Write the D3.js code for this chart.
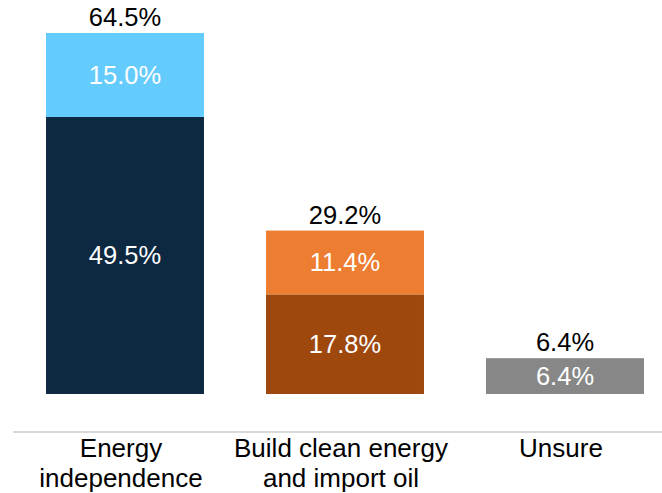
<!DOCTYPE html>
<html><head><meta charset="utf-8">
<script src="https://cdn.jsdelivr.net/npm/d3@7"></script>
<style>body{margin:0;background:#fff}svg{display:block}text{font-family:"Liberation Sans",Arial,sans-serif}</style>
</head><body>
<svg id="c" width="662" height="493"></svg>
<script>
const categories = [["Energy","independence"],["Build clean energy","and import oil"],["Unsure"]];
const bottomValues = [49.5, 17.8, 6.4];
const topValues = [15.0, 11.4, 0];
const totals = [64.5, 29.2, 6.4];
const bottomColors = ["#0d2841", "#9e480e", "#878787"];
const topColors = ["#64cbfd", "#ed7d31", "#878787"];

const svg = d3.select("#c");
const idx = categories.map((d,i)=>i);
const x = d3.scaleBand().domain(idx).range([15, 675]).paddingInner(0.282).paddingOuter(0.141);
const y = d3.scaleLinear().domain([0, 64.5]).range([394, 33]);

// axis line
svg.append("line").attr("x1",13).attr("x2",662).attr("y1",432).attr("y2",432)
  .attr("stroke","#d9d9d9").attr("stroke-width",2);

const fs = 25.5;
idx.forEach(i=>{
  const b = bottomValues[i], t = topValues[i];
  svg.append("rect").attr("x",x(i)).attr("width",x.bandwidth())
    .attr("y",y(b)).attr("height",y(0)-y(b)).attr("fill",bottomColors[i]);
  svg.append("text").attr("x",x(i)+x.bandwidth()/2).attr("y",(y(0)+y(b))/2)
    .attr("dy","0.35em").attr("text-anchor","middle").attr("fill","#fff").attr("font-size",fs)
    .text(b.toFixed(1)+"%");
  if (t>0){
    svg.append("rect").attr("x",x(i)).attr("width",x.bandwidth())
      .attr("y",y(b+t)).attr("height",y(b)-y(b+t)).attr("fill",topColors[i]);
    svg.append("text").attr("x",x(i)+x.bandwidth()/2).attr("y",(y(b)+y(b+t))/2)
      .attr("dy","0.35em").attr("text-anchor","middle").attr("fill","#fff").attr("font-size",fs)
      .text(t.toFixed(1)+"%");
  }
  svg.append("text").attr("x",x(i)+x.bandwidth()/2).attr("y",y(totals[i])-7)
    .attr("text-anchor","middle").attr("fill","#000").attr("font-size",fs)
    .text(totals[i].toFixed(1)+"%");
  const lab = svg.append("text").attr("text-anchor","middle").attr("fill","#000").attr("font-size",26);
  categories[i].forEach((line,j)=>{
    lab.append("tspan").attr("x",x(i)+x.bandwidth()/2-4).attr("y",457+j*30).text(line);
  });
});
</script>
</body></html>
